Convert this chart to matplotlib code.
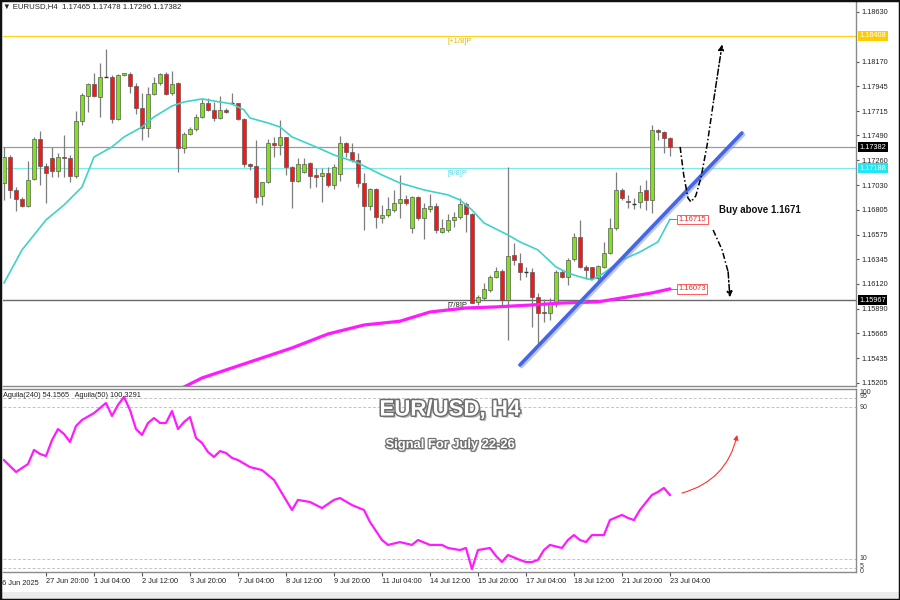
import matplotlib
matplotlib.use("Agg")
import matplotlib.pyplot as plt
import matplotlib.patheffects as pe
import matplotlib.transforms as mtrans
from matplotlib.patches import Rectangle
import numpy as np

plt.rcParams['font.family'] = ['Liberation Sans', 'DejaVu Sans']

# ---------------- data (EURUSD H4 candles) ----------------
opens = [1.17054,1.17288,1.16986,1.16900,1.16841,1.17085,1.17457,1.17208,1.17279,1.17165,
         1.17288,1.17279,1.17116,1.17620,1.17855,1.17965,1.17848,1.18033,1.18027,1.17641,
         1.18046,1.18058,1.17950,1.17741,1.17556,1.17873,1.17972,1.18058,1.17879,1.17972,
         1.17371,1.17503,1.17547,1.17659,1.17787,1.17726,1.17650,1.17726,1.17787,1.17787,
         1.17644,1.17226,1.17208,1.16931,1.17063,1.17417,1.17402,1.17472,1.17202,1.17072,
         1.17156,1.17232,1.17125,1.17116,1.17140,1.17032,
         1.17131,1.17424,1.17334,1.17263,1.17048,1.16838,1.16992,1.16731,1.16755,1.16801,
         1.16869,1.16900,1.16632,1.16918,1.16724,1.16808,1.16838,1.16601,1.16617,1.16709,
         1.16740,1.16854,1.16764,1.15955,1.15985,1.16062,1.16185,1.16241,1.15970,1.16386,
         1.16315,1.16232,1.16232,1.16001,1.15862,1.15847,1.15939,1.16232,1.16179,1.16346,
         1.16555,1.16272,1.16272,1.16170,1.16278,1.16401,1.16632,1.16986,1.16885,1.16863,
         1.16878,1.16986,1.16894,1.17541,1.17525,1.17465]
closes = [1.17288,1.16986,1.16900,1.16838,1.17078,1.17457,1.17208,1.17146,1.17165,1.17294,
          1.17282,1.17116,1.17620,1.17864,1.17965,1.17855,1.18033,1.18030,1.17641,1.18049,
          1.18064,1.17950,1.17741,1.17556,1.17873,1.17978,1.18058,1.17873,1.17965,1.17371,
          1.17503,1.17547,1.17659,1.17787,1.17726,1.17650,1.17726,1.17704,1.17784,1.17644,
          1.17226,1.17208,1.16924,1.17063,1.17423,1.17402,1.17472,1.17196,1.17072,1.17226,
          1.17226,1.17116,1.17109,1.17140,1.17032,1.17196,
          1.17424,1.17334,1.17263,1.17048,1.16838,1.16992,1.16740,1.16755,1.16808,1.16869,
          1.16900,1.16863,1.16918,1.16724,1.16817,1.16838,1.16617,1.16632,1.16709,1.16740,
          1.16854,1.16764,1.15945,1.15995,1.16068,1.16185,1.16241,1.15970,1.16377,1.16340,
          1.16232,1.16229,1.15995,1.15853,1.15853,1.15939,1.16232,1.16179,1.16340,1.16555,
          1.16272,1.16247,1.16170,1.16284,1.16401,1.16632,1.16986,1.16909,1.16872,1.16860,
          1.16971,1.16894,1.17541,1.17525,1.17464,1.17382]
highs = [1.17386,1.17309,1.17017,1.16924,1.17257,1.17479,1.17534,1.17232,1.17380,1.17325,
         1.17494,1.17309,1.17719,1.17879,1.17972,1.18064,1.18163,1.18286,1.18049,1.18055,
         1.18070,1.18079,1.17972,1.17879,1.17935,1.18027,1.18070,1.18079,1.18089,1.17987,
         1.17525,1.17567,1.17690,1.17824,1.17833,1.17802,1.17855,1.17741,1.17885,1.17793,
         1.17650,1.17239,1.17448,1.17063,1.17454,1.17479,1.17635,1.17479,1.17208,1.17279,
         1.17279,1.17248,1.17186,1.17186,1.17202,1.17226,
         1.17485,1.17433,1.17424,1.17325,1.17140,1.17002,1.17002,1.16848,1.16925,1.16986,
         1.17125,1.16940,1.16931,1.16931,1.16869,1.16949,1.16863,1.16715,1.16764,1.16786,
         1.16909,1.16878,1.16771,1.16016,1.16124,1.16201,1.16278,1.16253,1.17202,1.16500,
         1.16401,1.16278,1.16263,1.16031,1.15977,1.15985,1.16247,1.16247,1.16355,1.16586,
         1.16709,1.16293,1.16278,1.16293,1.16509,1.16724,1.17156,1.17002,1.16940,1.16909,
         1.17032,1.17079,1.17587,1.17547,1.17534,1.17478]
lows = [1.16894,1.16909,1.16795,1.16832,1.16832,1.17078,1.17032,1.16863,1.17109,1.17103,
        1.17109,1.17063,1.17094,1.17589,1.17710,1.17848,1.17659,1.18027,1.17602,1.17635,
        1.18039,1.17879,1.17690,1.17448,1.17479,1.17864,1.17956,1.17864,1.17864,1.17156,
        1.17325,1.17494,1.17534,1.17650,1.17719,1.17620,1.17641,1.17696,1.17781,1.17635,
        1.17202,1.17171,1.16863,1.16848,1.17048,1.17294,1.17309,1.17125,1.16817,1.17063,
        1.17140,1.17002,1.17017,1.16878,1.17017,1.16992,
        1.17072,1.17294,1.17248,1.17017,1.16617,1.16801,1.16632,1.16678,1.16740,1.16786,
        1.16724,1.16848,1.16586,1.16709,1.16530,1.16786,1.16586,1.16586,1.16601,1.16647,
        1.16715,1.16601,1.15940,1.15924,1.15970,1.16047,1.16170,1.15908,1.15600,1.16293,
        1.16155,1.16185,1.15723,1.15554,1.15770,1.15785,1.15908,1.16170,1.16109,1.16333,
        1.16263,1.16161,1.16161,1.16130,1.16263,1.16395,1.16617,1.16894,1.16817,1.16808,
        1.16817,1.16801,1.16771,1.17448,1.17325,1.17296]

# moving averages (vertices)
ema_idx = [0,3,7,10,13,15,18,20,23,25,28,30,33,35,38,40,41,44,46,48,50,52,55,59,63,66,70,74,76,78,
           80,84,86,89,92,94,96,98,100,103,106,109,111]
ema_val = [1.16128,1.16433,1.16710,1.16848,1.17014,1.17291,1.17384,1.17476,1.17568,1.17661,
           1.17762,1.17799,1.17827,1.17808,1.17781,1.17725,1.17651,1.17605,1.17568,1.17476,
           1.17430,1.17384,1.17310,1.17236,1.17125,1.17051,1.16987,1.16941,1.16894,1.16802,
           1.16682,1.16571,1.16507,1.16433,1.16276,1.16220,1.16184,1.16156,1.16220,1.16340,
           1.16414,1.16507,1.16715]
sma_idx = [29,33,41,48,54,60,66,71,77,82,88,93,99,103,108,111]
sma_val = [1.15140,1.15251,1.15399,1.15528,1.15657,1.15740,1.15775,1.15860,1.15897,1.15907,
           1.15925,1.15943,1.15953,1.15990,1.16036,1.16073]

# Aguila(50) oscillator
agu_idx = [-1,0,2,4,5,6,7,8,9,10,11,12,13,15,16,17,18,19,20,21,22,23,24,25,26,27,28,29,30,31,
           32,33,34,35,36,37,38,39,41,43,45,48,49,51,53,55,56,58,60,61,63,64,66,68,69,71,73,74,76,77,
           78,79,81,82,83,84,86,87,88,89,90,91,93,94,95,96,97,98,100,101,103,104,105,106,108,109,110,111]
agu_val = [63.2,62.0,55.8,60.0,67.4,65.3,64.2,72.6,78.4,75.8,71.6,80.0,83.2,86.8,89.5,92.1,85.3,91.1,95.3,88.4,
           78.4,75.3,81.6,84.2,81.6,81.6,87.9,78.4,82.1,84.7,
           73.7,71.1,66.3,63.7,66.8,65.8,63.2,62.1,58.4,56.8,51.6,35.8,41.1,40.0,36.8,41.1,42.1,38.4,35.8,29.5,
           20.0,17.4,18.9,17.4,20.0,17.4,17.4,15.8,14.7,15.8,
           4.7,14.7,15.8,11.6,8.4,12.1,9.5,8.4,8.4,9.5,14.7,17.4,15.8,20.0,22.6,20.0,18.9,22.6,22.6,30.5,
           33.2,31.6,30.5,35.8,43.7,45.3,47.4,43.7]

price_ticks = [1.18630,1.18170,1.17945,1.17715,1.17490,1.17260,1.17030,1.16805,1.16575,
               1.16345,1.16120,1.15890,1.15665,1.15435,1.15205]
level_plus18 = 1.18408
level_88 = 1.17188
level_78 = 1.15967
last_price = closes[-1]
trend_idx = [86, 123]
trend_val = [1.15371, 1.17513]

xtick_idx = [7,15,23,31,39,47,55,63,71,79,87,95,103,111]
xtick_lab = ["27 Jun 20:00","1 Jul 04:00","2 Jul 12:00","3 Jul 20:00","7 Jul 04:00","8 Jul 12:00",
             "9 Jul 20:00","11 Jul 04:00","14 Jul 12:00","15 Jul 20:00","17 Jul 04:00","18 Jul 12:00",
             "21 Jul 20:00","23 Jul 04:00"]

# ---------------- figure ----------------
fig = plt.figure(figsize=(9, 6), dpi=100)
fig.patch.set_facecolor('white')
ax = fig.add_axes([0.003, 0.3567, 0.948, 0.640])
ax2 = fig.add_axes([0.003, 0.0467, 0.948, 0.305])

XMIN, XMAX = -0.22, 142
ax.set_xlim(XMIN, XMAX)
ax2.set_xlim(XMIN, XMAX)
ax.set_ylim(1.15177, 1.18722)
ax2.set_ylim(3.16, 99.5)

spine_c = '#8a8a8a'
for a in (ax, ax2):
    for s in a.spines.values():
        s.set_color(spine_c)
        s.set_linewidth(1.0)
    a.spines['left'].set_visible(False)
    a.spines['top'].set_visible(False)
ax2.spines['top'].set_visible(True)

# horizontal levels
ax.axhline(level_plus18, color='#ffd21a', lw=0.9, zorder=1)
ax.axhline(last_price, color='#9a9aa0', lw=0.9, zorder=1)
ax.axhline(level_88, color='#7fe8ea', lw=0.9, zorder=1)
ax.axhline(level_78, color='#6a6a6a', lw=1.0, zorder=1)

ax.text(74, level_plus18 - 0.00015, '[+1/8]P', color='#e8b800', fontsize=5.5, va='top', ha='left')
ax.text(74, level_88 - 0.00015, '[8/8]P', color='#55d6e0', fontsize=5.5, va='top', ha='left')
ax.text(74, level_78 - 0.00012, '[7/8]P', color='#222222', fontsize=5.5, va='top', ha='left')

# candles
green, red = '#7fe31a', '#ff1414'
for i in range(len(opens)):
    o, h, l, c = opens[i], highs[i], lows[i], closes[i]
    ax.vlines(i, l, h, color='#7d7d7d', lw=0.9, zorder=2)
    if abs(c - o) < 0.00005:
        ax.hlines((o + c) / 2, i - 0.35, i + 0.35, color='#333333', lw=1.0, zorder=3)
    else:
        fc = green if c > o else red
        ax.add_patch(Rectangle((i - 0.34, min(o, c)), 0.68, abs(c - o), facecolor=fc,
                               edgecolor='#5a5a5a', lw=0.5, zorder=3))

# moving averages
ax.plot(ema_idx, ema_val, color='#3fd3c8', lw=1.2, zorder=4)
ax.plot(sma_idx, sma_val, color='#ff1aff', lw=2.3, zorder=4, solid_capstyle='round')

# MA value labels
for val, xi in ((ema_val[-1], ema_idx[-1]), (sma_val[-1], sma_idx[-1])):
    ax.plot([xi, xi + 1.4], [val, val], color='#ff3030', lw=0.6, zorder=4)
    ax.text(xi + 1.45, val, f'{val:.5f}', color='#ff2020', fontsize=5.5, va='center', ha='left',
            bbox=dict(boxstyle='square,pad=0.18', fc='white', ec='#ff4040', lw=0.6), zorder=6)

# trend line
ax.plot(trend_idx, trend_val, color='#4466e8', lw=2.6, zorder=5, solid_capstyle='round',
        path_effects=[pe.SimpleLineShadow(offset=(1.2, -1.2), shadow_color='#8090c8', alpha=0.5),
                      pe.Normal()])

# projected path arrows
dash = (0, (4, 1.6, 1, 1.6))
up_x = [112.7, 113.3, 114.0, 114.5, 115.3, 116.2, 117.2, 118.3]
up_y = [1.17384, 1.17125, 1.16913, 1.16876, 1.16931, 1.17107, 1.17402, 1.17818]
ax.plot(up_x, up_y, color='black', lw=1.1, ls=dash, zorder=6)
ax.annotate('', xy=(119.7, 1.18330), xytext=(up_x[-1], up_y[-1]),
            arrowprops=dict(arrowstyle='-|>', color='black', lw=1.1, ls=dash, mutation_scale=8,
                            shrinkA=0, shrinkB=0), zorder=6)
dn_x = [118.2, 119.7, 120.7]
dn_y = [1.16617, 1.16433, 1.16230]
ax.plot(dn_x, dn_y, color='black', lw=1.1, ls=dash, zorder=6)
ax.annotate('', xy=(121.0, 1.15995), xytext=(dn_x[-1], dn_y[-1]),
            arrowprops=dict(arrowstyle='-|>', color='black', lw=1.1, ls=dash, mutation_scale=8,
                            shrinkA=0, shrinkB=0), zorder=6)

ax.text(119.2, 1.16805, 'Buy above 1.1671', fontsize=7, fontweight='bold', color='#111111',
        va='center', ha='left')

# right price axis
ax.yaxis.tick_right()
ax.set_yticks(price_ticks)
ax.set_yticklabels([f'{v:.5f}' for v in price_ticks])
ax.tick_params(axis='y', labelsize=5.3, length=2, pad=2, color='#555555', labelcolor='#222222')
ax.tick_params(axis='x', bottom=False, labelbottom=False)

bt = mtrans.blended_transform_factory(ax.transAxes, ax.transData)
for val, fc in ((level_plus18, '#ffcc00'), (last_price, '#000000'), (level_88, '#22e6f0'),
                (level_78, '#000000')):
    ax.text(1.004, val, f'{val:.5f}', transform=bt, color='white', fontsize=5.3, va='center',
            ha='left', bbox=dict(boxstyle='square,pad=0.2', fc=fc, ec='none'), zorder=10,
            clip_on=False)

# ---------------- indicator panel ----------------
for lv in (95, 90, 10, 5):
    ax2.axhline(lv, color='#c4c4c4', lw=0.7, ls=(0, (3, 2)), zorder=1)
ax2.plot(agu_idx, agu_val, color='#ff1aff', lw=1.6, zorder=3)
ax2.set_yticks([])
bt2 = mtrans.blended_transform_factory(ax2.transAxes, ax2.transData)
for lab, yv in (('100', 97.9), ('95', 95.6), ('90', 90), ('10', 10), ('5', 5.8), ('0', 3.4)):
    ax2.text(1.004, yv, lab, transform=bt2, fontsize=5, va='center', ha='left', color='#333333',
             clip_on=False)

ax2.text(0.0, 0.985, 'Aguila(240) 54.1565   Aguila(50) 100.3291', transform=ax2.transAxes,
         fontsize=5.3, va='top', ha='left', color='#222222')

ax2.set_xticks(xtick_idx)
ax2.set_xticklabels(xtick_lab, ha='left')
ax2.tick_params(axis='x', labelsize=5.3, length=3, pad=1.5, color='#555555', labelcolor='#222222')
ax2.text(-1, -0.045, '26 Jun 2025', transform=mtrans.blended_transform_factory(ax2.transData, ax2.transAxes),
         fontsize=5.3, va='top', ha='left', color='#222222', clip_on=False)

# red arrow
ax2.annotate('', xy=(122.2, 75.3), xytext=(113.0, 44.7),
             arrowprops=dict(arrowstyle='-|>', color='#ff3030', lw=0.8, mutation_scale=7,
                             connectionstyle='arc3,rad=0.3', shrinkA=0, shrinkB=0))

# titles
fx = [pe.SimplePatchShadow(offset=(1.6, -1.6), shadow_rgbFace='#9a9a9a', alpha=0.7),
      pe.Stroke(linewidth=2.2, foreground='#6f6f6f'), pe.Normal()]
fig.text(0.5, 1 - 410 / 600, 'EUR/USD, H4', fontsize=16, fontweight='bold', color='white',
         ha='center', va='center', path_effects=fx)
fig.text(0.5, 1 - 445 / 600, 'Signal For July 22-26', fontsize=9.3, fontweight='bold', color='white',
         ha='center', va='center',
         path_effects=[pe.SimplePatchShadow(offset=(1.2, -1.2), shadow_rgbFace='#9a9a9a', alpha=0.7),
                       pe.Stroke(linewidth=1.8, foreground='#6f6f6f'), pe.Normal()])

# header
fig.text(3 / 900, 1 - 7 / 600,
         f'\u25BC EURUSD,H4  {opens[-1]:.5f} {highs[-1]:.5f} {lows[-1]:.5f} {closes[-1]:.5f}',
         fontsize=5.6, va='center', ha='left', color='#222222')

# bottom strip and frame
fig.add_artist(Rectangle((0, 0), 1, 8 / 600, transform=fig.transFigure, fc='#ececec', ec='none', zorder=0))
fig.add_artist(Rectangle((0, 0), 1, 1, transform=fig.transFigure, fill=False, ec='#111111', lw=2.5))

fig.savefig('out.png', dpi=100)
